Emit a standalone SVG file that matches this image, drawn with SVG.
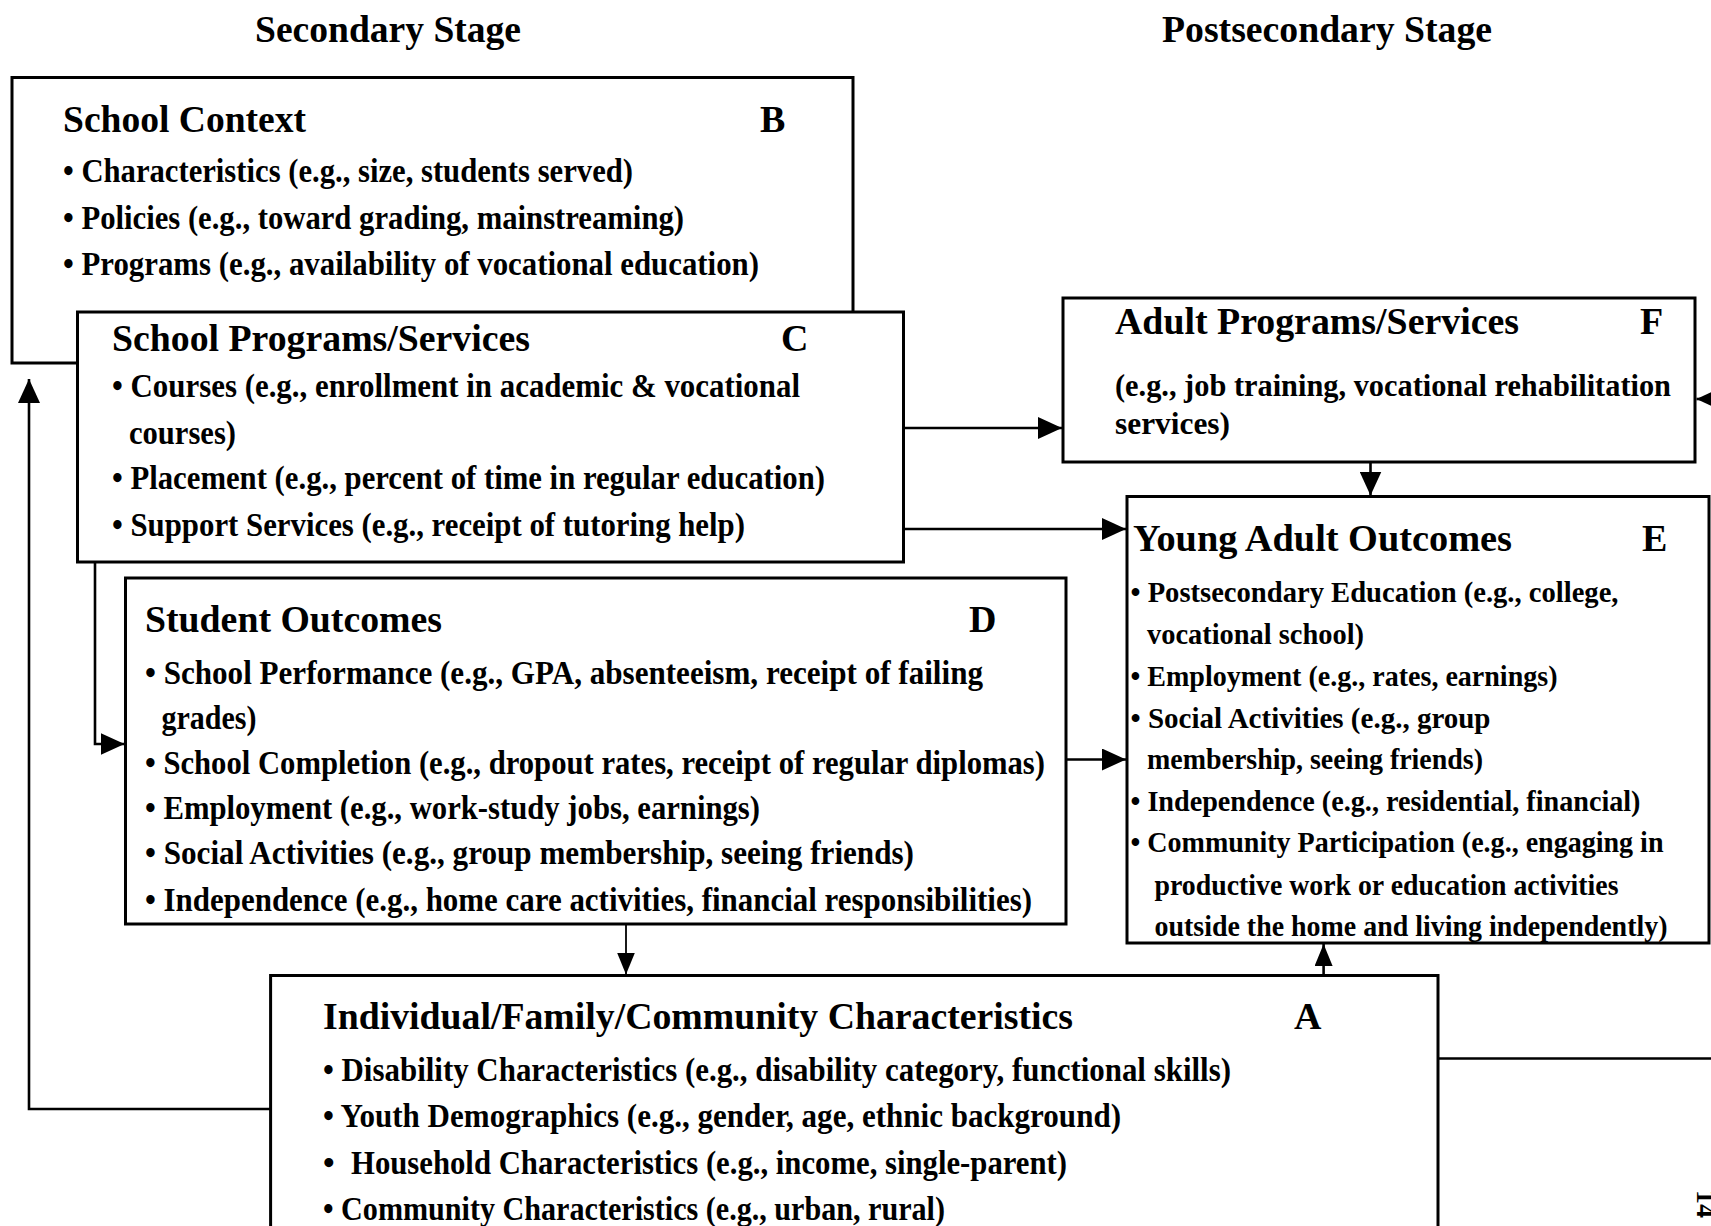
<svg xmlns="http://www.w3.org/2000/svg" width="1711" height="1226" viewBox="0 0 1711 1226">
<defs>
<style>
.box{fill:#fff;stroke:#000;stroke-width:3}
.t{font-family:"Liberation Serif","Times New Roman",serif;font-weight:bold;fill:#000}
.h{font-size:38px}
.b{font-size:33px}
.f{font-size:31px}
.e{font-size:30px}
.s{font-size:37px}
.c{fill:none;stroke:#000;stroke-width:2.6}
.thin{fill:none;stroke:#000;stroke-width:1.8}
</style>
<marker id="ah" markerUnits="userSpaceOnUse" markerWidth="24" markerHeight="22" refX="24" refY="11" orient="auto">
<path d="M0,0 L24,11 L0,22 Z" fill="#000"/>
</marker>
<marker id="ahs" markerUnits="userSpaceOnUse" markerWidth="22" markerHeight="18" refX="22" refY="9" orient="auto">
<path d="M0,0 L22,9 L0,18 Z" fill="#000"/>
</marker>
</defs>
<rect width="1711" height="1226" fill="#fff"/>

<g id="stage-titles">
<text class="t s" x="255" y="42" textLength="266" lengthAdjust="spacingAndGlyphs">Secondary Stage</text>
<text class="t s" x="1162" y="42" textLength="330" lengthAdjust="spacingAndGlyphs">Postsecondary Stage</text>
</g>

<g id="node-B">
<rect class="box" x="12" y="77.5" width="841" height="285.5"/>
<text class="t h" x="63" y="132" textLength="243" lengthAdjust="spacingAndGlyphs">School Context</text>
<text class="t h" x="760" y="132">B</text>
<text class="t b" x="63" y="182" textLength="570" lengthAdjust="spacingAndGlyphs">• Characteristics (e.g., size, students served)</text>
<text class="t b" x="63" y="229" textLength="621" lengthAdjust="spacingAndGlyphs">• Policies (e.g., toward grading, mainstreaming)</text>
<text class="t b" x="63" y="275" textLength="696" lengthAdjust="spacingAndGlyphs">• Programs (e.g., availability of vocational education)</text>
</g>

<g id="node-C">
<rect class="box" x="77.5" y="312" width="826" height="250"/>
<text class="t h" x="112" y="351" textLength="418" lengthAdjust="spacingAndGlyphs">School Programs/Services</text>
<text class="t h" x="781" y="351">C</text>
<text class="t b" x="112" y="397" textLength="688" lengthAdjust="spacingAndGlyphs">• Courses (e.g., enrollment in academic &amp; vocational</text>
<text class="t b" x="129" y="444" textLength="107" lengthAdjust="spacingAndGlyphs">courses)</text>
<text class="t b" x="112" y="489" textLength="713" lengthAdjust="spacingAndGlyphs">• Placement (e.g., percent of time in regular education)</text>
<text class="t b" x="112" y="536" textLength="633" lengthAdjust="spacingAndGlyphs">• Support Services (e.g., receipt of tutoring help)</text>
</g>

<g id="node-D">
<rect class="box" x="125.5" y="578" width="940.5" height="346"/>
<text class="t h" x="145" y="632" textLength="297" lengthAdjust="spacingAndGlyphs">Student Outcomes</text>
<text class="t h" x="969" y="632">D</text>
<text class="t b" x="145" y="684" textLength="838" lengthAdjust="spacingAndGlyphs">• School Performance (e.g., GPA, absenteeism, receipt of failing</text>
<text class="t b" x="161.5" y="729" textLength="95" lengthAdjust="spacingAndGlyphs">grades)</text>
<text class="t b" x="145" y="774" textLength="900" lengthAdjust="spacingAndGlyphs">• School Completion (e.g., dropout rates, receipt of regular diplomas)</text>
<text class="t b" x="145" y="819" textLength="615" lengthAdjust="spacingAndGlyphs">• Employment (e.g., work-study jobs, earnings)</text>
<text class="t b" x="145" y="864" textLength="769" lengthAdjust="spacingAndGlyphs">• Social Activities (e.g., group membership, seeing friends)</text>
<text class="t b" x="145" y="911" textLength="887" lengthAdjust="spacingAndGlyphs">• Independence (e.g., home care activities, financial responsibilities)</text>
</g>

<g id="node-F">
<rect class="box" x="1063" y="298" width="632" height="164"/>
<text class="t h" x="1115" y="334" textLength="404" lengthAdjust="spacingAndGlyphs">Adult Programs/Services</text>
<text class="t h" x="1640" y="334">F</text>
<text class="t f" x="1115" y="396" textLength="556" lengthAdjust="spacingAndGlyphs">(e.g., job training, vocational rehabilitation</text>
<text class="t f" x="1115" y="434" textLength="115" lengthAdjust="spacingAndGlyphs">services)</text>
</g>

<g id="node-E">
<rect class="box" x="1127" y="496.5" width="582" height="446.5"/>
<text class="t h" x="1133" y="551" textLength="379" lengthAdjust="spacingAndGlyphs">Young Adult Outcomes</text>
<text class="t h" x="1642" y="551">E</text>
<text class="t e" x="1130.5" y="602" textLength="488" lengthAdjust="spacingAndGlyphs">• Postsecondary Education (e.g., college,</text>
<text class="t e" x="1147" y="644" textLength="217" lengthAdjust="spacingAndGlyphs">vocational school)</text>
<text class="t e" x="1130.5" y="686" textLength="427" lengthAdjust="spacingAndGlyphs">• Employment (e.g., rates, earnings)</text>
<text class="t e" x="1130.5" y="728" textLength="360" lengthAdjust="spacingAndGlyphs">• Social Activities (e.g., group</text>
<text class="t e" x="1147" y="769" textLength="336" lengthAdjust="spacingAndGlyphs">membership, seeing friends)</text>
<text class="t e" x="1130.5" y="811" textLength="510" lengthAdjust="spacingAndGlyphs">• Independence (e.g., residential, financial)</text>
<text class="t e" x="1130.5" y="852" textLength="533" lengthAdjust="spacingAndGlyphs">• Community Participation (e.g., engaging in</text>
<text class="t e" x="1154.5" y="895" textLength="464" lengthAdjust="spacingAndGlyphs">productive work or education activities</text>
<text class="t e" x="1154.5" y="936" textLength="513" lengthAdjust="spacingAndGlyphs">outside the home and living independently)</text>
</g>

<g id="node-A">
<rect class="box" x="270.6" y="975.5" width="1167.4" height="300"/>
<text class="t h" x="323" y="1029" textLength="750" lengthAdjust="spacingAndGlyphs">Individual/Family/Community Characteristics</text>
<text class="t h" x="1294" y="1029">A</text>
<text class="t b" x="323" y="1081" textLength="908" lengthAdjust="spacingAndGlyphs">• Disability Characteristics (e.g., disability category, functional skills)</text>
<text class="t b" x="323" y="1127" textLength="798" lengthAdjust="spacingAndGlyphs">• Youth Demographics (e.g., gender, age, ethnic background)</text>
<text class="t b" x="323" y="1174">•</text>
<text class="t b" x="351" y="1174" textLength="716" lengthAdjust="spacingAndGlyphs">Household Characteristics (e.g., income, single-parent)</text>
<text class="t b" x="323" y="1220" textLength="622" lengthAdjust="spacingAndGlyphs">• Community Characteristics (e.g., urban, rural)</text>
</g>

<g id="connectors">
<path class="c" d="M270.6,1109 H29 V379" marker-end="url(#ah)"/>
<path class="c" d="M95,562 V744 H124.5" marker-end="url(#ah)"/>
<path class="c" d="M903.5,428 H1062" marker-end="url(#ah)"/>
<path class="c" d="M903.5,529 H1126" marker-end="url(#ah)"/>
<path class="c" d="M1066,759.5 H1126" marker-end="url(#ah)"/>
<path class="c" d="M1370.5,462 V495.5" marker-end="url(#ah)"/>
<path class="thin" d="M626,924 V974.5" marker-end="url(#ahs)"/>
<path class="c" d="M1323.6,975.5 V944" marker-end="url(#ahs)"/>
<path class="c" d="M1438,1058.5 H1711"/>
<path class="c" d="M1711,399 H1696.5" marker-end="url(#ah)"/>
</g>

<g id="page-number">
<text class="t" font-size="28" transform="translate(1697,1190) rotate(90)">14</text>
</g>
</svg>
